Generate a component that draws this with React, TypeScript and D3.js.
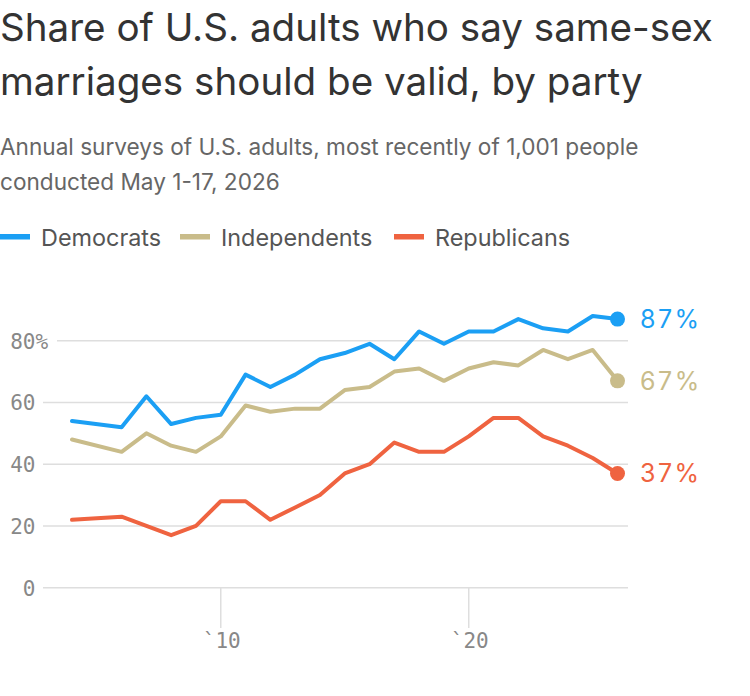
import React from "react";
import * as d3 from "d3";

// Survey years (2005 missing in the source series)
const years = [
    2004, 2006, 2007, 2008, 2009, 2010, 2011, 2012, 2013, 2014, 2015,
    2016, 2017, 2018, 2019, 2020, 2021, 2022, 2023, 2024, 2025, 2026,
];

const democrats = [54, 52, 62, 53, 55, 56, 69, 65, 69, 74, 76, 79, 74, 83, 79, 83, 83, 87, 84, 83, 88, 87];
const independents = [48, 44, 50, 46, 44, 49, 59, 57, 58, 58, 64, 65, 70, 71, 67, 71, 73, 72, 77, 74, 77, 67];
const republicans = [22, 23, 20, 17, 20, 28, 28, 22, 26, 30, 37, 40, 47, 44, 44, 49, 55, 55, 49, 46, 42, 37];

const seriesNames = ["Democrats", "Independents", "Republicans"];
const seriesColors = ["#1b9ff4", "#c9bc8a", "#ef6340"];

const yTicks = [0, 20, 40, 60, 80];
const xTicks = [2010, 2020];
const xTickLabels = ["`10", "`20"];

const titleLines = [
    "Share of U.S. adults who say same-sex",
    "marriages should be valid, by party",
];
const subtitleLines = [
    "Annual surveys of U.S. adults, most recently of 1,001 people",
    "conducted May 1-17, 2026",
];

const WIDTH = 750;
const HEIGHT = 696;

const sansFont = "Inter, 'Noto Sans', sans-serif";
const monoFont = "'DejaVu Sans Mono', monospace";

export default function App() {
    const x = d3.scaleLinear().domain([2004, 2026]).range([72, 617.5]);
    const y = d3.scaleLinear().domain([0, 80]).range([587.7, 340.7]);

    const series = [democrats, independents, republicans].map((values, i) => ({
        name: seriesNames[i],
        color: seriesColors[i],
        points: values.map((v, j) => ({ year: years[j], value: v })),
    }));

    const line = d3
        .line<{ year: number; value: number }>()
        .x((d) => x(d.year))
        .y((d) => y(d.value));

    const gridRight = 628;
    const legendX = [0, 180, 394];

    return (
        <svg
            width={WIDTH}
            height={HEIGHT}
            style={{ position: "absolute", left: 0, top: 0, background: "#fff" }}
        >
            {/* title + subtitle */}
            {titleLines.map((t, i) => (
                <text key={t} x={0} y={41 + i * 54} fontFamily={sansFont} fontSize={38.6}
                    fill="#333">
                    {t}
                </text>
            ))}
            {subtitleLines.map((t, i) => (
                <text key={t} x={0} y={155 + i * 35} fontFamily={sansFont} fontSize={22.6}
                    fill="#666">
                    {t}
                </text>
            ))}

            {/* legend */}
            {series.map((s, i) => (
                <g key={s.name} transform={`translate(${legendX[i]}, 0)`}>
                    <rect x={0} y={234} width={30} height={5.5} fill={s.color} />
                    <text x={41} y={246} fontFamily={sansFont} fontSize={23.4} fill="#555">
                        {s.name}
                    </text>
                </g>
            ))}

            {/* horizontal grid + y labels */}
            {yTicks.map((t) => {
                const top = t === yTicks[yTicks.length - 1];
                return (
                    <g key={t}>
                        <line x1={top ? 57 : 43} x2={gridRight} y1={y(t)} y2={y(t)}
                            stroke="#dedede" strokeWidth={1.5} />
                        <text x={35.5} y={y(t) + 8} textAnchor="end" fontFamily={monoFont}
                            fontSize={21} fill="#888">
                            {t}
                        </text>
                        {top && (
                            <text x={35.5} y={y(t) + 8} fontFamily={monoFont} fontSize={21} fill="#888">
                                %
                            </text>
                        )}
                    </g>
                );
            })}

            {/* x ticks */}
            {xTicks.map((t, i) => (
                <g key={t}>
                    <line x1={x(t)} x2={x(t)} y1={y(0)} y2={628} stroke="#dedede" strokeWidth={1.5} />
                    <text x={x(t) + 1} y={648} textAnchor="middle" fontFamily={monoFont}
                        fontSize={21} fill="#888">
                        {xTickLabels[i]}
                    </text>
                </g>
            ))}

            {/* lines */}
            {series.map((s) => (
                <path key={s.name} d={line(s.points) ?? ""} fill="none" stroke={s.color}
                    strokeWidth={4} strokeLinejoin="round" strokeLinecap="round" />
            ))}

            {/* end dots + labels */}
            {series.map((s) => {
                const last = s.points[s.points.length - 1];
                return (
                    <g key={s.name}>
                        <circle cx={x(last.year)} cy={y(last.value)} r={7.5} fill={s.color} />
                        <text x={640} y={y(last.value) + 9} fontFamily={sansFont} fontSize={25}
                            fill={s.color} letterSpacing={2.5}>
                            {`${last.value}%`}
                        </text>
                    </g>
                );
            })}
        </svg>
    );
}
